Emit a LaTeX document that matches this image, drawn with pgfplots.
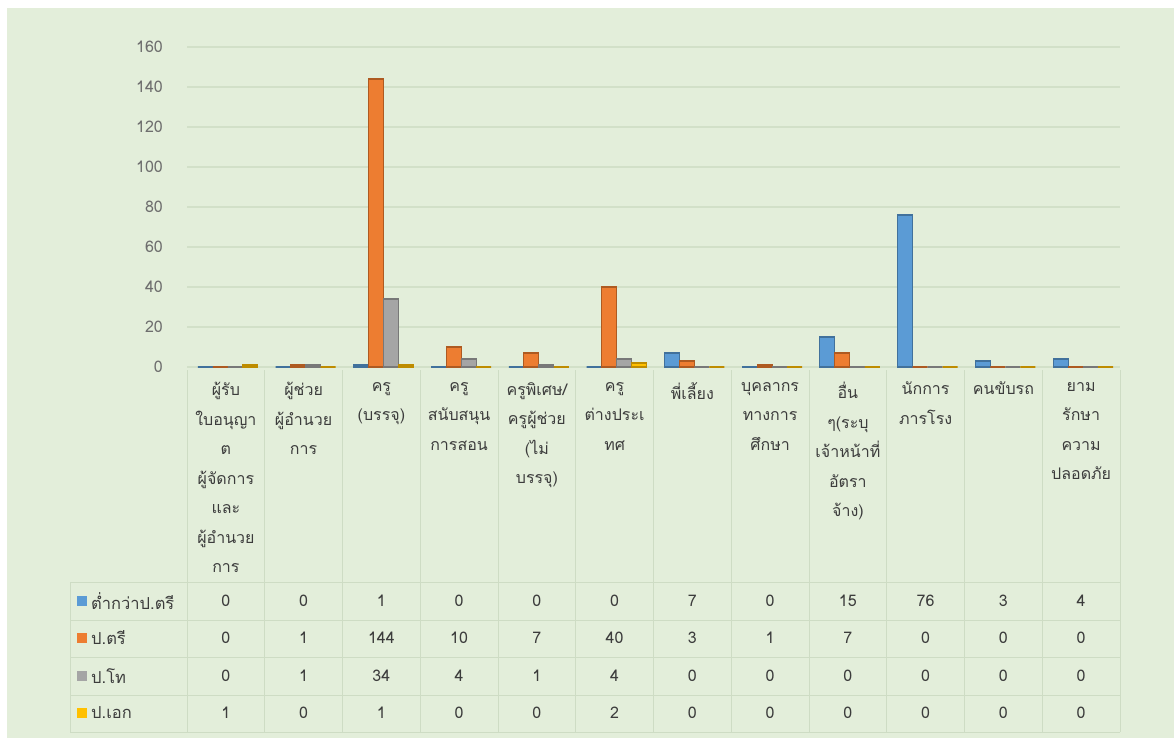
\documentclass[border=0pt]{standalone}
\usepackage{pgfplots}
\pgfplotsset{compat=1.18}
\usepackage{pgfplotstable}
\usepackage{fontspec}
\setmainfont{Loma}[Script=Thai]
\definecolor{bgc}{RGB}{227,238,218}
\definecolor{gridc}{RGB}{210,224,200}
\definecolor{tabc}{RGB}{206,220,196}
\definecolor{tickc}{RGB}{110,110,110}
\definecolor{txtc}{RGB}{60,60,60}
\definecolor{sA}{RGB}{91,155,213}
\definecolor{sAd}{RGB}{65,113,156}
\definecolor{sB}{RGB}{237,125,49}
\definecolor{sBd}{RGB}{174,90,33}
\definecolor{sC}{RGB}{165,165,165}
\definecolor{sCd}{RGB}{120,120,120}
\definecolor{sD}{RGB}{255,192,0}
\definecolor{sDd}{RGB}{190,140,0}

\pgfplotstableread{
x a b c d
0 0 0 0 1
1 0 1 1 0
2 1 144 34 1
3 0 10 4 0
4 0 7 1 0
5 0 40 4 2
6 7 3 0 0
7 0 1 0 0
8 15 7 0 0
9 76 0 0 0
10 3 0 0 0
11 4 0 0 0
}\datatable

\begin{document}
\begin{tikzpicture}[x=1pt,y=1pt]
\fill[white] (0,0) rectangle (1174,-743);
\fill[bgc] (7,-8) rectangle (1174,-738);
\begin{axis}[
  at={(187pt,-367pt)}, anchor=south west,
  scale only axis, width=933pt, height=320pt,
  xmin=-0.5, xmax=11.5, ymin=0, ymax=160,
  ytick={0,20,...,160}, xtick=\empty,
  ymajorgrids, grid style={color=gridc, line width=1.6pt},
  axis line style={draw=none}, major tick length=0pt,
  yticklabel style={font=\fontsize{16}{18}\selectfont, text=tickc, anchor=east, inner sep=0pt, xshift=-24pt},
  /pgf/number format/assume math mode=true,
  ybar=0pt, bar width=15pt, clip=false,
  every axis plot/.append style={line width=1.2pt, xshift=2pt},
]
\addplot[fill=sA, draw=sAd] table[x=x,y=a]{\datatable};
\addplot[fill=sB, draw=sBd] table[x=x,y=b]{\datatable};
\addplot[fill=sC, draw=sCd] table[x=x,y=c]{\datatable};
\addplot[fill=sD, draw=sDd] table[x=x,y=d]{\datatable};
\end{axis}
% data table grid
\foreach \k in {0,...,12} { \draw[tabc, line width=1pt] ({187+77.75*\k},-370) -- ({187+77.75*\k},-732); }
\draw[tabc, line width=1pt] (70,-582) -- (70,-732);
\foreach \yy in {582,620,657,695,732} { \draw[tabc, line width=1pt] (70,-\yy) -- (1120,-\yy); }
% category labels
\begin{scope}[every node/.style={anchor=north, align=center, inner sep=0pt, text=txtc, font=\fontsize{16}{29.5}\selectfont}]
\node at (225.9,-382) {ผู้รับ\\ใบอนุญา\\ต\\ผู้จัดการ\\และ\\ผู้อำนวย\\การ};
\node at (303.6,-382) {ผู้ช่วย\\ผู้อำนวย\\การ};
\node at (381.4,-382) {ครู\\(บรรจุ)};
\node at (459.1,-382) {ครู\\สนับสนุน\\การสอน};
\node at (536.9,-382) {ครูพิเศษ/\\ครูผู้ช่วย\\(ไม่\\บรรจุ)};
\node at (614.6,-382) {ครู\\ต่างประเ\\ทศ};
\node at (692.4,-382) {พี่เลี้ยง};
\node at (770.1,-382) {บุคลากร\\ทางการ\\ศึกษา};
\node at (847.9,-382) {อื่น\\ๆ(ระบุ\\เจ้าหน้าที่\\อัตรา\\จ้าง)};
\node at (925.6,-382) {นักการ\\ภารโรง};
\node at (1003.4,-382) {คนขับรถ};
\node at (1081.1,-382) {ยาม\\รักษา\\ความ\\ปลอดภัย};
\end{scope}
% legend cells
\begin{scope}[every node/.style={anchor=west, inner sep=0pt, text=txtc, font=\fontsize{16.5}{18}\selectfont}]
\fill[sA] (77,-596) rectangle (87,-606); \node at (91,-601) {ต่ำกว่าป.ตรี};
\fill[sB] (77,-633) rectangle (87,-643); \node at (91,-638) {ป.ตรี};
\fill[sC] (77,-671) rectangle (87,-681); \node at (91,-676) {ป.โท};
\fill[sD] (77,-708) rectangle (87,-718); \node at (91,-713) {ป.เอก};
\end{scope}
% table values
\foreach \i in {0,...,11} {
  \foreach \c/\yy in {a/601,b/638,c/676,d/713} {
    \pgfplotstablegetelem{\i}{\c}\of\datatable
    \node[text=txtc, font=\fontsize{16}{18}\selectfont, inner sep=0pt] at ({187+77.75*(\i+0.5)},-\yy) {\pgfplotsretval};
  }
}
\end{tikzpicture}
\end{document}
